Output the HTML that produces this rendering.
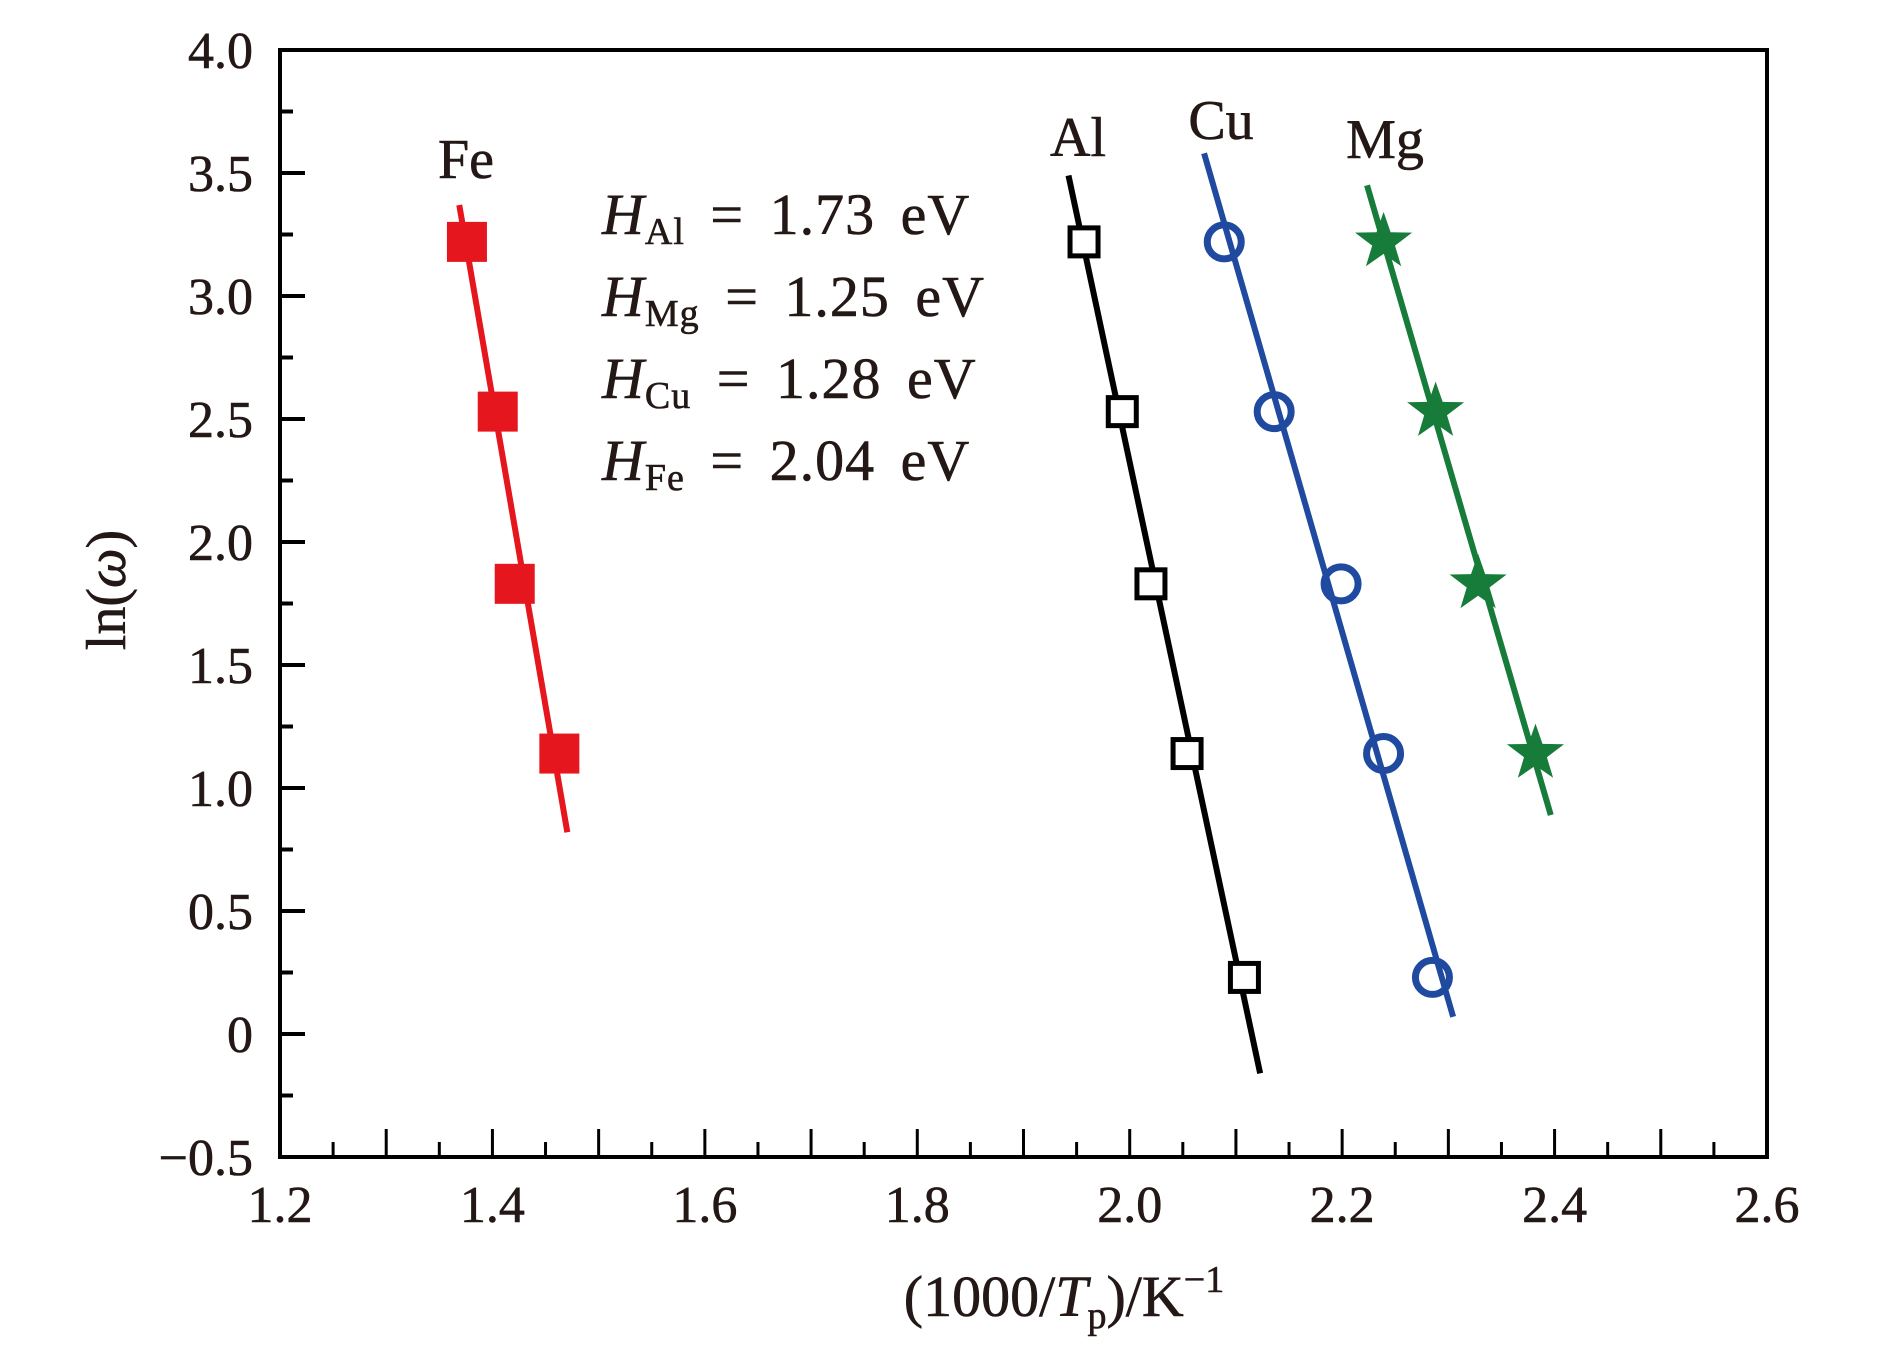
<!DOCTYPE html>
<html><head><meta charset="utf-8"><style>
html,body{margin:0;padding:0;background:#fff;}
svg{display:block;}
text{font-family:"Liberation Serif","DejaVu Serif",serif;fill:#231815;stroke:#231815;stroke-width:0.6;}
</style></head><body>
<svg id="chart" width="1890" height="1347" viewBox="0 0 1890 1347">
<g id="axes"></g>
<g id="series"></g>
<g id="labels">
<text x="466" y="178" font-size="56" text-anchor="middle">Fe</text>
<text x="1078" y="156" font-size="56" text-anchor="middle">Al</text>
<text x="1221" y="139" font-size="56" text-anchor="middle">Cu</text>
<text x="1385" y="158" font-size="56" text-anchor="middle">Mg</text>
<g word-spacing="10" letter-spacing="1">
<text x="602" y="234" font-size="58"><tspan font-style="italic">H</tspan><tspan font-size="38" dy="10">Al</tspan><tspan dy="-10"> = 1.73 eV</tspan></text>
<text x="602" y="316" font-size="58"><tspan font-style="italic">H</tspan><tspan font-size="38" dy="10">Mg</tspan><tspan dy="-10"> = 1.25 eV</tspan></text>
<text x="602" y="398" font-size="58"><tspan font-style="italic">H</tspan><tspan font-size="38" dy="10">Cu</tspan><tspan dy="-10"> = 1.28 eV</tspan></text>
<text x="602" y="480" font-size="58"><tspan font-style="italic">H</tspan><tspan font-size="38" dy="10">Fe</tspan><tspan dy="-10"> = 2.04 eV</tspan></text>
</g>
<text x="1064" y="1316" font-size="58" text-anchor="middle">(1000/<tspan font-style="italic">T</tspan><tspan font-size="38" dy="12">p</tspan><tspan dy="-12">)/K</tspan><tspan font-size="38" dy="-24">−1</tspan></text>
<text transform="translate(125,590) rotate(-90)" font-size="56" text-anchor="middle">ln(<tspan font-style="italic">ω</tspan>)</text>
</g>
</svg>
<script>
const xTicks=[1.2,1.4,1.6,1.8,2.0,2.2,2.4,2.6];
const xTickLabels=["1.2","1.4","1.6","1.8","2.0","2.2","2.4","2.6"];
const yTicks=[4.0,3.5,3.0,2.5,2.0,1.5,1.0,0.5,0,-0.5];
const yTickLabels=["4.0","3.5","3.0","2.5","2.0","1.5","1.0","0.5","0","−0.5"];
const feX=[1.376,1.405,1.421,1.463];
const feY=[3.22,2.53,1.83,1.14];
const alX=[1.957,1.993,2.020,2.054,2.108];
const alY=[3.22,2.53,1.83,1.14,0.23];
const cuX=[2.089,2.136,2.199,2.239,2.285];
const cuY=[3.22,2.53,1.83,1.14,0.23];
const mgX=[2.239,2.288,2.328,2.382];
const mgY=[3.22,2.53,1.83,1.14];
const feLineY=[3.37,0.82];
const alLineY=[3.49,-0.16];
const cuLineY=[3.58,0.07];
const mgLineY=[3.45,0.89];

const L=280,R=1767,T=50,B=1157;
const xs=v=>L+(v-1.2)/1.4*(R-L);
const ys=v=>T+(4-v)/4.5*(B-T);
const NS="http://www.w3.org/2000/svg";
function mk(tag,attrs,parent){const e=document.createElementNS(NS,tag);for(const k in attrs)e.setAttribute(k,attrs[k]);parent.appendChild(e);return e;}
const axes=document.getElementById('axes');
const series=document.getElementById('series');

const frame=mk('rect',{x:L,y:T,width:R-L,height:B-T,fill:'none',stroke:'#000','stroke-width':4},axes);


for(let i=0;i<=28;i++){const v=1.2+i*0.05;const major=i%2===0;
 const t=mk('line',{x1:xs(v),x2:xs(v),y1:B,y2:B-(major?28:15),stroke:'#000','stroke-width':3},axes);
 
 }
for(let i=0;i<=18;i++){const v=-0.5+i*0.25;const major=i%2===0;
 const t=mk('line',{x1:L,x2:L+(major?25:13),y1:ys(v),y2:ys(v),stroke:'#000','stroke-width':4},axes);
 
 }
xTicks.forEach((v,i)=>{const t=mk('text',{x:xs(v),y:1222,'font-size':52,'text-anchor':'middle'},axes);t.textContent=xTickLabels[i];
 
 });
yTicks.forEach((v,i)=>{const t=mk('text',{x:253,y:ys(v)+18,'font-size':52,'text-anchor':'end'},axes);t.textContent=yTickLabels[i];
 
 });

function fit(X,Y){const n=X.length;let mx=0,my=0;for(let i=0;i<n;i++){mx+=X[i];my+=Y[i];}mx/=n;my/=n;let sxy=0,syy=0;for(let i=0;i<n;i++){sxy+=(X[i]-mx)*(Y[i]-my);syy+=(Y[i]-my)**2;}const b=sxy/syy;return y=>mx+b*(y-my);}
function drawLine(X,Y,ext,color,name){const f=fit(X,Y);
 const l=mk('line',{x1:xs(f(ext[0])),y1:ys(ext[0]),x2:xs(f(ext[1])),y2:ys(ext[1]),stroke:color,'stroke-width':6},series);
 
 }
const red='#e5161d',blk='#000',blue='#1f4aa0',green='#177c3a';
drawLine(feX,feY,feLineY,red,'fit-line-fe');
drawLine(alX,alY,alLineY,blk,'fit-line-al');
drawLine(cuX,cuY,cuLineY,blue,'fit-line-cu');
drawLine(mgX,mgY,mgLineY,green,'fit-line-mg');

feX.forEach((x,i)=>{const m=mk('rect',{x:xs(x)-20,y:ys(feY[i])-20,width:40,height:40,fill:red},series);
 
 });
alX.forEach((x,i)=>{const m=mk('rect',{x:xs(x)-14,y:ys(alY[i])-14,width:28,height:28,fill:'#fff',stroke:blk,'stroke-width':5},series);
 
 });
cuX.forEach((x,i)=>{const m=mk('circle',{cx:xs(x),cy:ys(cuY[i]),r:17,fill:'none',stroke:blue,'stroke-width':7},series);
 
 });
function starPts(cx,cy,ro,ri){let p=[];for(let k=0;k<10;k++){const a=-Math.PI/2+k*Math.PI/5;const r=k%2?ri:ro;p.push((cx+r*Math.cos(a)).toFixed(1)+','+(cy+r*Math.sin(a)).toFixed(1));}return p.join(' ');}
mgX.forEach((x,i)=>{const m=mk('polygon',{points:starPts(xs(x),ys(mgY[i]),30,12),fill:green},series);
 
 });
</script>
</body></html>
